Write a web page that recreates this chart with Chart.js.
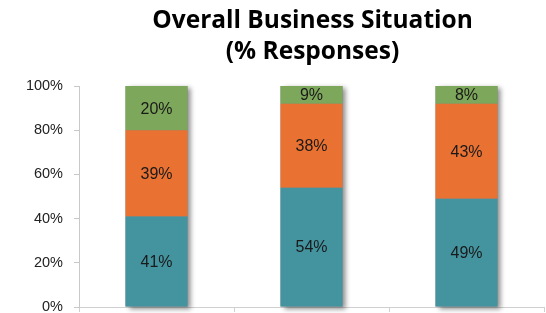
<!DOCTYPE html>
<html>
<head>
<meta charset="utf-8">
<script src="https://cdn.jsdelivr.net/npm/chart.js@4.4.1/dist/chart.umd.min.js"></script>
<style>
html,body{margin:0;padding:0;background:#fff;}
#wrap{width:546px;height:313px;}
</style>
</head>
<body>
<div id="wrap"><canvas id="c" width="546" height="313"></canvas></div>
<script>
const categories = ["", "", ""];
const titleLines = ["Overall Business Situation", "(% Responses)"];
const seriesNames = ["Low", "Medium", "High"];
const lowValues = [41, 54, 49];
const mediumValues = [39, 38, 43];
const highValues = [20, 9, 8];
const yTicks = [0, 20, 40, 60, 80, 100];
const colors = ["#4494A0", "#E97132", "#7DA75A"];

const shadowPlugin = {
  id: 'stackShadow',
  beforeDatasetsDraw(chart) {
    const ctx = chart.ctx;
    const ca = chart.chartArea;
    const metas = chart.data.datasets.map((d, i) => chart.getDatasetMeta(i));
    const n = chart.data.labels.length;
    for (let i = 0; i < n; i++) {
      let top = Infinity, base = 0, x = 0, w = 0;
      metas.forEach(m => {
        const el = m.data[i];
        if (!el) return;
        top = Math.min(top, el.y);
        base = Math.max(base, el.base);
        x = el.x; w = el.width;
      });
      top = Math.max(top, ca.top);
      ctx.save();
      ctx.shadowColor = 'rgba(0,0,0,0.45)';
      ctx.shadowBlur = 5;
      ctx.shadowOffsetX = 3;
      ctx.shadowOffsetY = 2;
      ctx.fillStyle = '#888';
      ctx.fillRect(x - w / 2, top, w, base - top);
      ctx.restore();
    }
  }
};

const labelPlugin = {
  id: 'segLabels',
  afterDatasetsDraw(chart) {
    const ctx = chart.ctx;
    const ca = chart.chartArea;
    ctx.save();
    ctx.font = '16px "Liberation Sans", Arial, sans-serif';
    ctx.fillStyle = '#1a1a1a';
    ctx.textAlign = 'center';
    ctx.textBaseline = 'middle';
    chart.data.datasets.forEach((ds, di) => {
      const meta = chart.getDatasetMeta(di);
      meta.data.forEach((el, i) => {
        const top = Math.max(el.y, ca.top);
        const y = (top + el.base) / 2;
        ctx.fillText(ds.data[i] + '%', el.x, y + 1);
      });
    });
    ctx.restore();
  }
};

const titlePlugin = {
  id: 'customTitle',
  afterDraw(chart) {
    const ctx = chart.ctx;
    const ca = chart.chartArea;
    const cx = (ca.left + ca.right) / 2 + 1;
    ctx.save();
    ctx.font = 'bold 24.5px "Open Sans", sans-serif';
    ctx.fillStyle = '#000';
    ctx.textAlign = 'center';
    ctx.textBaseline = 'middle';
    titleLines.forEach((t, k) => ctx.fillText(t, cx, 21 + k * 31));
    ctx.restore();
  }
};

new Chart(document.getElementById('c'), {
  type: 'bar',
  data: {
    labels: categories,
    datasets: [
      { label: seriesNames[0], data: lowValues, backgroundColor: colors[0] },
      { label: seriesNames[1], data: mediumValues, backgroundColor: colors[1] },
      { label: seriesNames[2], data: highValues, backgroundColor: colors[2] }
    ].map(d => Object.assign(d, { categoryPercentage: 1, barPercentage: 0.4, borderWidth: 0 }))
  },
  options: {
    responsive: false,
    animation: false,
    devicePixelRatio: 1,
    layout: { padding: { top: 86, left: 0, right: 2, bottom: 0 } },
    plugins: { legend: { display: false }, title: { display: false }, tooltip: { enabled: false } },
    scales: {
      x: {
        stacked: true,
        grid: { display: true, drawOnChartArea: false, offset: true, tickLength: 5, color: '#d0d0d0' },
        border: { display: true, color: '#d0d0d0', width: 1 },
        ticks: { display: false },
        afterFit(s) { s.height = 6; s.paddingLeft = 0; s.paddingRight = 0; }
      },
      y: {
        stacked: true,
        min: 0, max: 100,
        afterBuildTicks(s) { s.ticks = yTicks.map(v => ({ value: v })); },
        grid: { display: true, drawOnChartArea: false, tickLength: 5, color: '#c8c8c8' },
        border: { display: true, color: '#c8c8c8', width: 1 },
        ticks: {
          padding: 11,
          color: '#222',
          font: { family: '"Liberation Sans", Arial, sans-serif', size: 14.5 },
          callback: v => v + '%'
        },
        afterFit(s) { s.width = 79; s.paddingTop = 0; s.paddingBottom = 0; }
      }
    }
  },
  plugins: [shadowPlugin, labelPlugin, titlePlugin]
});
</script>
</body>
</html>
